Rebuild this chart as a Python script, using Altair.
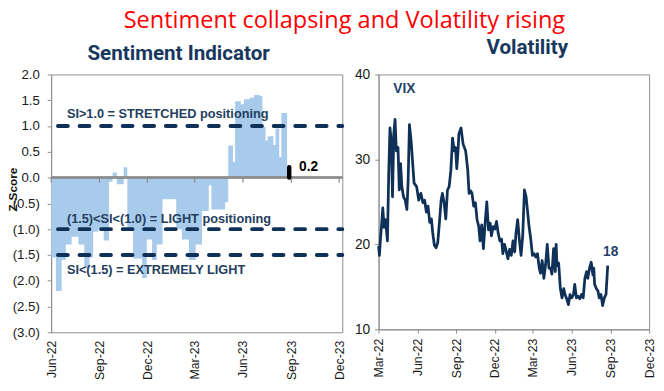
import altair as alt
import pandas as pd

# ---------------- Sentiment indicator (z-score), step series ----------------
si_start = ["2022-06-01", "2022-06-10", "2022-06-21", "2022-06-29", "2022-07-10",
            "2022-07-23", "2022-08-03", "2022-08-13", "2022-08-20", "2022-08-30",
            "2022-09-09", "2022-09-19", "2022-09-26", "2022-10-04", "2022-10-17",
            "2022-10-24", "2022-11-04", "2022-11-21", "2022-11-30", "2022-12-10",
            "2022-12-19", "2022-12-30", "2023-01-25", "2023-02-05", "2023-02-18",
            "2023-03-03", "2023-03-15", "2023-03-28", "2023-04-02", "2023-04-28",
            "2023-05-04", "2023-05-13", "2023-05-17", "2023-05-28", "2023-06-03",
            "2023-06-14", "2023-06-22", "2023-07-03", "2023-07-08", "2023-07-14",
            "2023-07-18", "2023-07-29", "2023-08-02", "2023-08-09", "2023-08-13"]
si_value = [-1.55, -2.2, -1.6, -1.3, -1.15,
            -1.3, -1.75, -1.55, -1.05, -1.0,
            -1.22, -0.08, 0.1, -0.13, 0.2,
            -1.0, -1.57, -1.95, -1.2, -1.6,
            -1.3, -0.42, -1.0, -1.2, -1.6,
            -1.3, -0.65, -0.15, -0.62, -0.48,
            0.62, 0.3, 1.48, 1.42, 1.52,
            1.55, 1.6, 1.58, 0.98, 0.72,
            0.8, 0.63, 0.95, 0.4, 1.25]
si_end = "2023-08-24"
si_latest_date = "2023-08-28"
si_latest = 0.2

threshold_levels = [1.0, -1.0, -1.5]
si_notes = ["SI>1.0 = STRETCHED positioning",
            "(1.5)<SI<(1.0) = LIGHT positioning",
            "SI<(1.5) = EXTREMELY LIGHT"]
si_note_y = [1.24, -0.8, -1.79]
si_note_date = "2022-07-01"

left_ticks = ["2022-06-01", "2022-09-01", "2022-12-01", "2023-03-01",
              "2023-06-01", "2023-09-01", "2023-12-01"]
left_y_ticks = [2.0, 1.5, 1.0, 0.5, 0.0, -0.5, -1.0, -1.5, -2.0, -2.5, -3.0]

# ---------------- VIX ----------------
vix_day = [0, 2, 5, 7, 10, 13, 16, 19, 21, 24, 27, 30, 33, 36, 39, 42, 46, 49, 52, 55,
           59, 63, 67, 70, 73, 77, 80, 84, 90, 95, 100, 105, 109, 113, 117, 121, 125,
           128, 132, 136, 140, 144, 148, 151, 155, 159, 163, 167, 171, 175, 179, 182,
           185, 188, 190, 195, 200, 206, 211, 214, 218, 221, 225, 229, 233, 237, 240,
           244, 248, 252, 256, 260, 264, 267, 271, 275, 279, 283, 287, 291, 294, 298,
           302, 306, 310, 314, 318, 322, 325, 329, 333, 337, 341, 345, 349, 352, 356,
           360, 364, 368, 372, 376, 380, 383, 387, 391, 395, 399, 403, 407, 410, 414,
           418, 420, 422, 426, 430, 434, 438, 441, 445, 449, 453, 457, 461, 464, 468,
           472, 476, 480, 484, 488, 492, 495, 499, 503, 507, 509, 511, 515, 519, 522,
           526, 530, 534, 538, 542]
vix_value = [19.8, 18.7, 21.0, 22.2, 24.3, 22.0, 22.9, 21.5, 20.4, 28.3, 33.7, 32.2,
             25.6, 33.0, 34.7, 31.0, 31.4, 26.4, 29.5, 26.8, 25.6, 25.2, 24.1, 27.5,
             34.1, 32.2, 30.0, 27.2, 26.8, 25.2, 26.0, 24.9, 25.2, 23.8, 24.5, 22.6,
             23.0, 21.4, 19.9, 19.6, 20.2, 22.6, 25.2, 26.0, 24.9, 23.0, 26.4, 26.8,
             28.7, 32.5, 31.0, 31.4, 28.9, 31.0, 33.0, 33.7, 31.8, 31.0, 28.7, 26.0,
             26.3, 26.0, 24.5, 24.9, 22.9, 22.1, 20.4, 22.3, 19.5, 22.5, 25.0, 21.7,
             22.5, 21.0, 22.1, 21.8, 22.7, 21.3, 20.4, 20.6, 18.9, 20.0, 19.2, 18.3,
             19.4, 18.7, 20.4, 19.1, 21.3, 22.9, 20.6, 18.7, 21.0, 26.4, 25.6, 24.1,
             22.1, 20.6, 18.7, 18.9, 18.5, 18.9, 17.2, 16.6, 18.1, 16.0, 17.6, 20.0,
             17.2, 17.2, 16.5, 19.5, 16.8, 20.0, 17.5, 17.8, 14.8, 13.7, 14.8, 14.1,
             13.6, 12.9, 14.1, 13.7, 14.1, 15.3, 13.7, 13.9, 13.6, 14.1, 13.7, 16.0,
             16.8, 16.0, 17.2, 17.9, 16.4, 17.2, 15.3, 14.8, 14.5, 13.7, 14.1, 12.8,
             13.7, 14.1, 17.5]
vix_base = "2022-03-01"
vix_label_date, vix_label_y = "2022-04-05", 38.3
vix_last_label, vix_last_date, vix_last_y = "18", "2023-08-14", 19.1

right_ticks = ["2022-03-01", "2022-06-01", "2022-09-01", "2022-12-01", "2023-03-01",
               "2023-06-01", "2023-09-01", "2023-12-01"]
right_y_ticks = [10, 20, 30, 40]

# ---------------- styles ----------------
NAVY = "#0F3057"
BLUE_FILL = "#A8CBEB"
GREY = "#8C8C8C"
LABEL = "#1A1A1A"
PANEL_FONT = "Roboto"
BASE_FONT = "Liberation Sans"


def dt(s):
    y, m, d = (int(p) for p in s.split("-"))
    return alt.DateTime(year=y, month=m, date=d)


# scales (set once, on the first layer) and axes (identical in every layer)
x_scale_left = alt.Scale(domain=[dt("2022-06-01"), dt("2023-12-07")], nice=False)
x_axis_left = alt.Axis(values=[dt(s) for s in left_ticks], format="%b-%y",
                       labelAngle=-90, tickSize=0, labelPadding=8, domain=False,
                       grid=False, title=None, labelFontSize=12.5, labelOverlap=False,
                       labelColor=LABEL, labelFont=BASE_FONT)
y_scale_left = alt.Scale(domain=[-3, 2], nice=False, zero=False)
y_axis_left = alt.Axis(values=left_y_ticks,
                       labelExpr="datum.value < 0 ? '(' + format(-datum.value, '.1f') + ')' : format(datum.value, '.1f') + '\u00a0'",
                       labelOverlap=False, tickSize=4, tickColor=GREY, domainColor=GREY,
                       labelPadding=8, grid=False, title="Z-Score",
                       titleFontSize=12, titleFontWeight="bold",
                       titleColor="#111111", titleX=-32, titleY=117,
                       titleBaseline="bottom", labelFontSize=13.5, labelColor=LABEL,
                       labelFont=BASE_FONT, titleFont=BASE_FONT)

x_scale_right = alt.Scale(domain=[dt("2022-03-01"), dt("2023-12-01")], nice=False)
x_axis_right = alt.Axis(values=[dt(s) for s in right_ticks], format="%b-%y",
                        labelAngle=-90, tickSize=4, tickColor=GREY, labelPadding=5,
                        domainColor=GREY, grid=False, title=None, labelOverlap=False,
                        labelFontSize=12.5, labelColor=LABEL, labelFont=BASE_FONT)
y_scale_right = alt.Scale(domain=[10, 40], nice=False, zero=False)
y_axis_right = alt.Axis(values=right_y_ticks, tickSize=4, tickColor=GREY,
                        domainColor=GREY, labelPadding=5, grid=False, title=None,
                        labelOverlap=False, labelFontSize=14, labelColor=LABEL,
                        labelFont=BASE_FONT)


def XL(first=False):
    if first:
        return alt.X("date:T", scale=x_scale_left, axis=x_axis_left)
    return alt.X("date:T", axis=x_axis_left)


def YL(f="z"):
    return alt.Y(f"{f}:Q", scale=y_scale_left, axis=y_axis_left)


def XR(first=False):
    if first:
        return alt.X("date:T", scale=x_scale_right, axis=x_axis_right)
    return alt.X("date:T", axis=x_axis_right)


def YR(f="vix"):
    return alt.Y(f"{f}:Q", scale=y_scale_right, axis=y_axis_right)


# ---------------- left panel ----------------
si_df = pd.DataFrame({"date": pd.to_datetime(si_start + [si_end]),
                      "z": si_value + [si_value[-1]], "z0": 0.0})
lt_df = pd.DataFrame({"date": pd.to_datetime(left_ticks), "z": 0.0, "z1": -0.1})
lev_df = pd.DataFrame({"z": threshold_levels})
note_df = pd.DataFrame({"date": pd.to_datetime([si_note_date] * 3),
                        "z": si_note_y, "text": si_notes})
latest_df = pd.DataFrame({"date": pd.to_datetime([si_latest_date]), "z": [si_latest],
                          "z0": [0.0], "label": [f"{si_latest:.1f}"]})

area = alt.Chart(si_df).mark_area(interpolate="step-after", color=BLUE_FILL).encode(
    x=XL(first=True), y=YL(), y2="z0:Q")
zero = alt.Chart(lt_df).mark_rule(color=GREY, strokeWidth=1.5).encode(y=YL())
qticks = alt.Chart(lt_df).mark_rule(color=GREY, strokeWidth=1.2).encode(
    x=XL(), y=YL(), y2="z1:Q")
dashes = alt.Chart(lev_df).mark_rule(color=NAVY, strokeWidth=4, strokeDash=[10, 12],
                                     strokeDashOffset=6, strokeCap="round").encode(y=YL())
notes = alt.Chart(note_df).mark_text(align="left", baseline="middle", fontSize=13,
                                     fontWeight="bold", color="#243E60",
                                     font=BASE_FONT).encode(x=XL(), y=YL(), text="text:N")
latest_bar = alt.Chart(latest_df).mark_rule(color="black", strokeWidth=4.5,
                                            strokeCap="round").encode(
    x=XL(), y=YL(), y2="z0:Q")
latest_txt = alt.Chart(latest_df).mark_text(align="left", baseline="middle", dx=10,
                                            fontSize=14, fontWeight="bold",
                                            color="black", font=BASE_FONT).encode(
    x=XL(), y=YL(), text="label:N")

left = alt.layer(area, zero, qticks, dashes, notes, latest_bar, latest_txt).properties(
    width=297, height=263,
    title=alt.TitleParams("Sentiment Indicator", anchor="start", frame="group", dx=37,
                          offset=-13, baseline="alphabetic", fontSize=21,
                          fontWeight="bold", font=PANEL_FONT, color="#17375E"))

# ---------------- right panel ----------------
vix_df = pd.DataFrame({"date": pd.Timestamp(vix_base) + pd.to_timedelta(vix_day, unit="D"),
                       "vix": vix_value})
vlab_df = pd.DataFrame({"date": pd.to_datetime([vix_label_date, vix_last_date]),
                        "vix": [vix_label_y, vix_last_y], "text": ["VIX", vix_last_label]})

vix_line = alt.Chart(vix_df).mark_line(color=NAVY, strokeWidth=2.8,
                                       strokeJoin="round").encode(x=XR(first=True), y=YR())
vix_text = alt.Chart(vlab_df).mark_text(align="left", baseline="middle", fontSize=14,
                                        fontWeight="bold", color="#1F3F6A",
                                        font=BASE_FONT).encode(
    x=XR(), y=YR(), text="text:N")

right = alt.layer(vix_line, vix_text).properties(
    width=276, height=260,
    title=alt.TitleParams("Volatility", anchor="start", frame="group", dx=110,
                          offset=-7, baseline="alphabetic", fontSize=21,
                          fontWeight="bold", font=PANEL_FONT, color="#17375E"))

chart = alt.hconcat(left, right, spacing=37, bounds="flush").properties(
    title=alt.TitleParams("Sentiment collapsing and Volatility rising", anchor="start",
                          frame="group", dx=74, fontSize=24, font="Open Sans",
                          fontWeight="normal", color="#FF0000", offset=4),
    padding={"left": -2, "top": -3, "right": 0, "bottom": 0},
).configure_view(stroke=GREY, strokeWidth=1)

chart.save("out.html", embed_options={"renderer": "svg", "actions": False})
